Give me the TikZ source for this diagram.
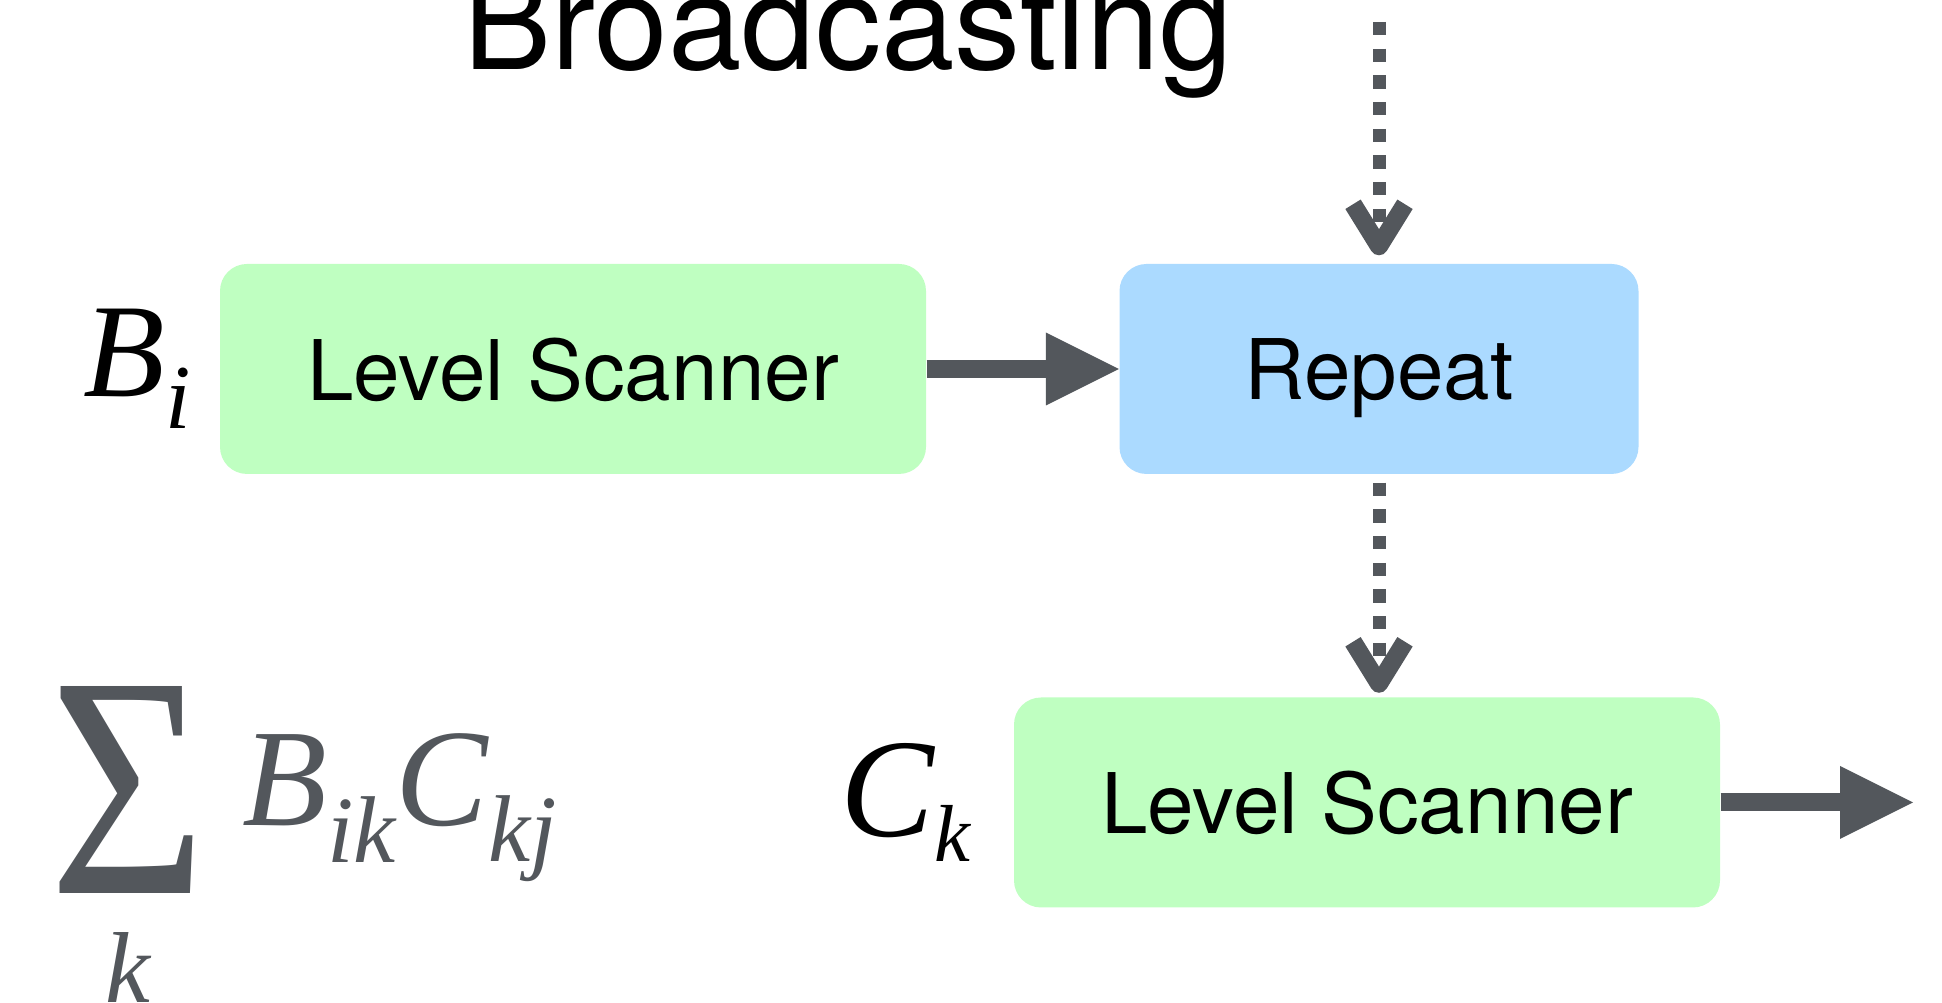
\documentclass[tikz,border=0pt]{standalone}
\usepackage{fontspec}
\setmainfont{TeX Gyre Heros}
\newfontfamily\tms{Liberation Serif}
\usepackage{xcolor}
\usepackage{graphicx}
\usetikzlibrary{arrows.meta,positioning}
\definecolor{scangreen}{RGB}{191,255,193}
\definecolor{repblue}{RGB}{171,218,255}
\definecolor{flowgray}{RGB}{83,87,92}
% italic letter with a lowered subscript: letter, sub, drop, sub size
\newcommand\ivar[4]{{\tms\itshape #1\raisebox{#3}{\fontsize{#4}{#4}\selectfont #2}}}

\begin{document}
\begin{tikzpicture}[
  box/.style={rounded corners=0.27cm, minimum width=7.06cm, minimum height=2.1cm,
    inner sep=0pt, text depth=0pt, font=\fontsize{23.8}{28}\selectfont},
  scanner/.style={box, fill=scangreen},
  repeatbox/.style={box, fill=repblue, minimum width=5.19cm},
  flow/.style={draw=flowgray, line width=0.18cm,
    -{Triangle[length=0.73cm,width=0.73cm,line width=0pt]}},
  bcast/.style={draw=flowgray, line width=0.13cm, dash pattern=on 0.133cm off 0.134cm,
    -{Straight Barb[length=0.42cm,width=0.52cm,line width=0.18cm,line cap=butt,line join=round]}},
  lbl/.style={inner sep=0pt}
]
  \useasboundingbox (0,0) rectangle (19.42,10.03);
  \node [anchor=base, inner sep=0pt, font=\fontsize{37.6}{40}\selectfont] (bc) at (8.48,9.33) {Broadcasting};
  \coordinate (src) at (13.79,9.81);
  \node [scanner] (ls1) at (5.73,6.34) {Level Scanner};
  \node [repeatbox] (rep) at (13.79,6.34) {Repeat};
  \node [scanner] (ls2) at (13.67,2.005) {Level Scanner};
  \coordinate (out) at (19.13,2.005);
  \node [lbl, left=0.28cm of ls1, font=\fontsize{38}{40}\selectfont] (bi) {\ivar{B}{i}{-9.1pt}{26}};
  \node [lbl, left=0.42cm of ls2, font=\fontsize{40}{44}\selectfont] (ck) {\ivar{C}{k}{-7.1pt}{23}};
  % the sum in grey
  \node [lbl, anchor=south west, text=flowgray] (sigma) at (0.49,1.09) {\resizebox{1.57cm}{2.07cm}{\tms Σ}};
  \node [lbl, below=0.38cm of sigma, text=flowgray, font=\fontsize{28.7}{30}\selectfont\tms\itshape] (sk) {k};
  \node [lbl, anchor=base west, text=flowgray, font=\fontsize{39.5}{42}\selectfont] (terms) at (2.42,1.77)
    {\ivar{B}{ik}{-10.5pt}{27}\ivar{C}{kj}{-10pt}{27}};
  \draw [flow] (ls1) -- (rep);
  \draw [flow] (ls2) -- (out);
  \draw [bcast, shorten >=0.08cm] (src) -- (rep);
  \draw [bcast, shorten <=0.08cm, shorten >=0.04cm] (rep) -- (rep |- ls2.north);
\end{tikzpicture}
\end{document}
